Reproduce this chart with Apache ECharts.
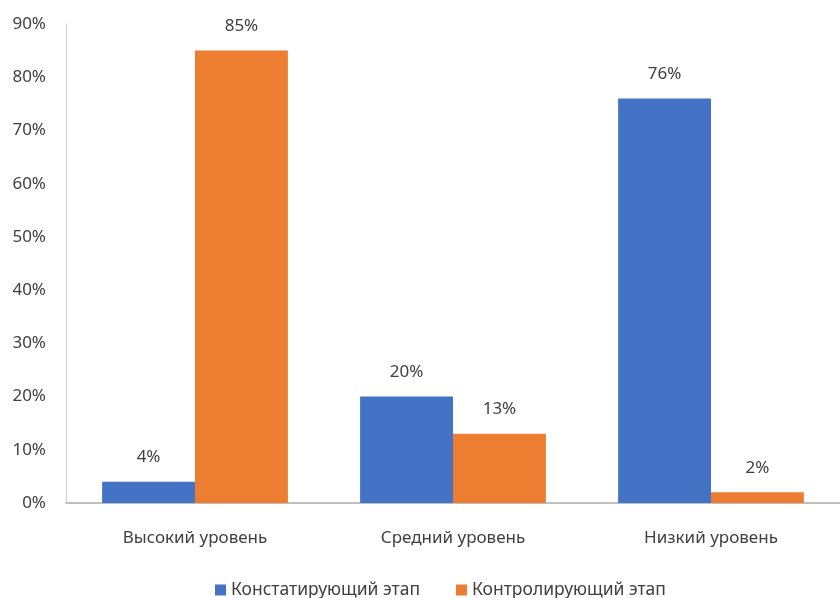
<!DOCTYPE html>
<html><head><meta charset="utf-8">
<script src="https://cdn.jsdelivr.net/npm/echarts@6/dist/echarts.min.js"></script>
<style>html,body{margin:0;padding:0;background:#fff}#c{width:840px;height:598px}</style>
</head><body><div id="c"></div>
<script>
const categories = ['Высокий уровень', 'Средний уровень', 'Низкий уровень'];
const seriesNames = ['Констатирующий этап', 'Контролирующий этап'];
const stage1 = [4, 20, 76];
const stage2 = [85, 13, 2];
const yTicks = [0, 10, 20, 30, 40, 50, 60, 70, 80, 90];

const font = 'Noto Sans';
const txt = '#404040';
const chart = echarts.init(document.getElementById('c'), null, {renderer: 'canvas'});
const lbl = {show: true, position: 'top', distance: 16, color: txt, fontFamily: font, fontSize: 17, formatter: p => p.value + '%'};
chart.setOption({
  animation: false,
  color: ['#4472C4', '#ED7D31'],
  grid: {left: 66, width: 782, top: 24, height: 479, containLabel: false},
  legend: {
    top: 576, left: 210, itemWidth: 11, itemHeight: 11, itemGap: 36,
    icon: 'rect',
    textStyle: {color: txt, fontFamily: font, fontSize: 17.5},
    data: seriesNames
  },
  xAxis: {
    type: 'category', data: categories,
    axisLine: {lineStyle: {color: '#bfbfbf', width: 2}},
    axisTick: {show: false},
    axisLabel: {color: txt, fontFamily: font, fontSize: 17, margin: 27}
  },
  yAxis: {
    type: 'value', min: yTicks[0], max: yTicks[yTicks.length - 1], interval: 10,
    axisLine: {show: true, lineStyle: {color: '#d0d0d0', width: 1}},
    axisTick: {show: false},
    splitLine: {show: false},
    axisLabel: {color: txt, fontFamily: font, fontSize: 17, margin: 20, formatter: v => v + '%'}
  },
  series: [
    {name: seriesNames[0], type: 'bar', data: stage1, barGap: '0%', barCategoryGap: '28%', label: lbl},
    {name: seriesNames[1], type: 'bar', data: stage2, barGap: '0%', barCategoryGap: '28%', label: lbl}
  ]
});
</script></body></html>
